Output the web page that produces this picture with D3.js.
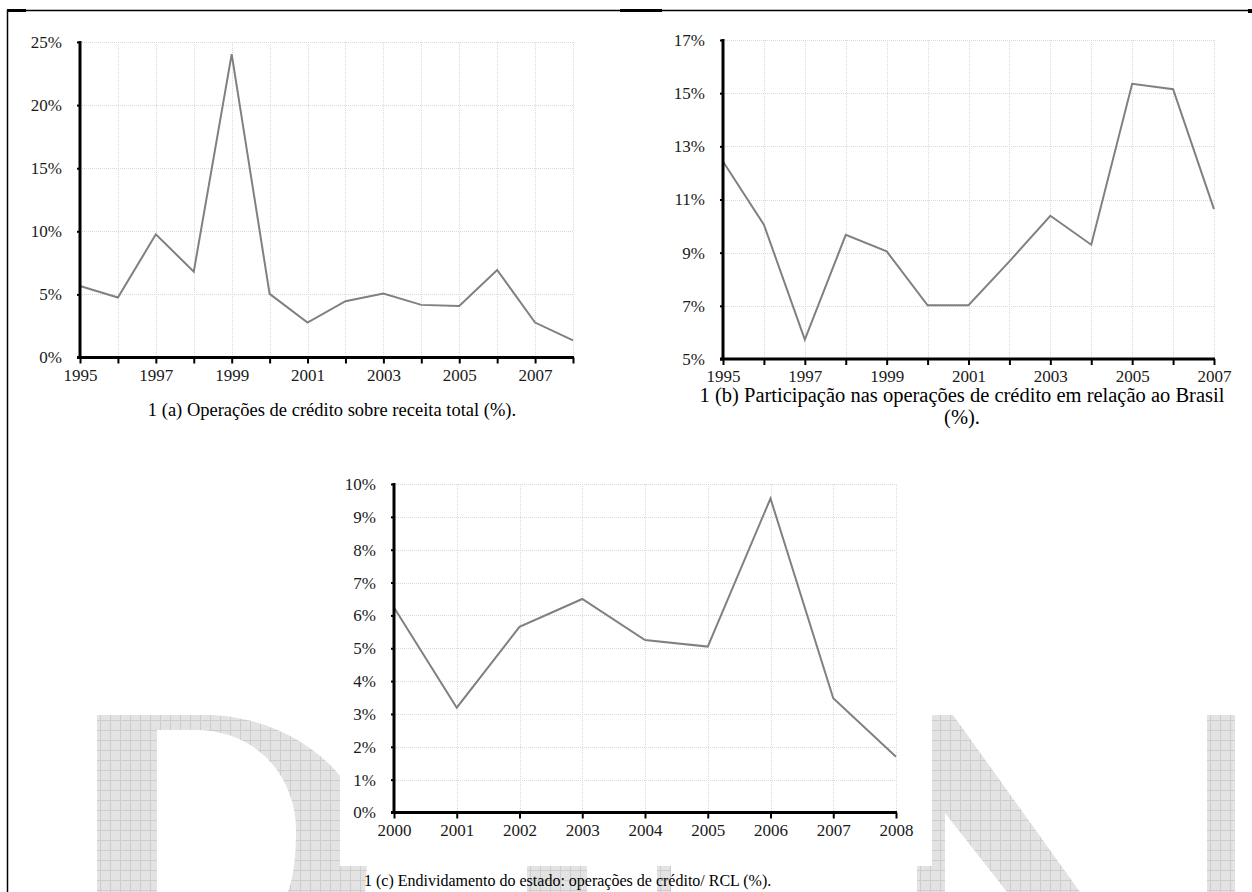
<!DOCTYPE html>
<html>
<head>
<meta charset="utf-8">
<script src="https://cdn.jsdelivr.net/npm/d3@7"></script>
<style>
  html, body { margin: 0; padding: 0; background: #fff; }
  svg { display: block; }
  text { font-family: "Liberation Serif", "Times New Roman", serif; }
</style>
</head>
<body>
<svg id="chart" width="1252" height="892"></svg>
<script>
// ---------- data ----------
const yearsA = [1995, 1996, 1997, 1998, 1999, 2000, 2001, 2002, 2003, 2004, 2005, 2006, 2007, 2008];
const valuesA = [5.67, 4.75, 9.76, 6.8, 24.04, 5.04, 2.77, 4.46, 5.07, 4.17, 4.09, 6.94, 2.77, 1.35];
const yTicksA = [0, 5, 10, 15, 20, 25];
const xLabelsA = [1995, 1997, 1999, 2001, 2003, 2005, 2007];

const yearsB = [1995, 1996, 1997, 1998, 1999, 2000, 2001, 2002, 2003, 2004, 2005, 2006, 2007];
const valuesB = [12.43, 10.05, 5.73, 9.67, 9.05, 7.02, 7.02, 8.67, 10.39, 9.30, 15.35, 15.15, 10.64];
const yTicksB = [5, 7, 9, 11, 13, 15, 17];
const xLabelsB = [1995, 1997, 1999, 2001, 2003, 2005, 2007];

const yearsC = [2000, 2001, 2002, 2003, 2004, 2005, 2006, 2007, 2008];
const valuesC = [6.24, 3.19, 5.65, 6.50, 5.25, 5.05, 9.56, 3.48, 1.70];
const yTicksC = [0, 1, 2, 3, 4, 5, 6, 7, 8, 9, 10];
const xLabelsC = [2000, 2001, 2002, 2003, 2004, 2005, 2006, 2007, 2008];

const captionA = ["1 (a) Operações de crédito sobre receita total (%)."];
const captionB = ["1 (b) Participação nas operações de crédito em relação ao Brasil", "(%)."];
const captionC = ["1 (c) Endividamento do estado: operações de crédito/ RCL (%)."];

// ---------- drawing ----------
const svg = d3.select("#chart");
const defs = svg.append("defs");
const pat = defs.append("pattern").attr("id", "wm").attr("width", 10).attr("height", 10)
  .attr("patternUnits", "userSpaceOnUse");
pat.append("rect").attr("width", 10).attr("height", 10).attr("fill", "#e3e3e3");
pat.append("path").attr("d", "M0 0.5H10M0.5 0V10").attr("stroke", "#cdcdcd").attr("stroke-width", 1);

// watermark (decorative background letters)
const wm = svg.append("g");
wm.append("path").attr("fill", "url(#wm)").attr("fill-rule", "evenodd")
  .attr("d", "M97,715 H205 C290,715 368,775 368,850 L365,892 H97 Z " +
             "M157,730 H195 C260,730 296,780 296,830 C296,860 293,878 288,892 H157 Z");
wm.append("rect").attr("fill", "url(#wm)").attr("x", 527).attr("y", 715).attr("width", 60).attr("height", 177);
wm.append("rect").attr("fill", "url(#wm)").attr("x", 657).attr("y", 715).attr("width", 14).attr("height", 177);
wm.append("path").attr("fill", "url(#wm)")
  .attr("d", "M917,715 H953 L1080,892 H1007 L945,813 V892 H917 Z");
wm.append("rect").attr("fill", "url(#wm)").attr("x", 1207).attr("y", 715).attr("width", 28).attr("height", 177);

// white backing box for chart (c)
svg.append("rect").attr("x", 340).attr("y", 470).attr("width", 592).attr("height", 396).attr("fill", "#fff");

// frame
svg.append("line").attr("x1", 7).attr("x2", 1252).attr("y1", 10.5).attr("y2", 10.5)
  .attr("stroke", "#000").attr("stroke-width", 1.5);
svg.append("line").attr("x1", 7.5).attr("x2", 7.5).attr("y1", 10).attr("y2", 892)
  .attr("stroke", "#000").attr("stroke-width", 1.5);
svg.append("rect").attr("x", 7).attr("y", 9).attr("width", 19).attr("height", 3).attr("fill", "#000");
svg.append("rect").attr("x", 620).attr("y", 9).attr("width", 42).attr("height", 3).attr("fill", "#000");
svg.append("rect").attr("x", 1248).attr("y", 9).attr("width", 4).attr("height", 4).attr("fill", "#000");

function drawChart(opt) {
  const g = svg.append("g");
  const x = d3.scaleLinear().domain([opt.years[0], opt.years[opt.years.length - 1]]).range([opt.x0, opt.x1]);
  const y = d3.scaleLinear().domain([opt.yTicks[0], opt.yTicks[opt.yTicks.length - 1]]).range([opt.y0, opt.y1]);

  // grid
  const grid = g.append("g").attr("stroke", "#d9d9d9").attr("stroke-width", 1).attr("stroke-dasharray", "1,1");
  grid.selectAll("line.v").data(opt.years.slice(1)).join("line")
    .attr("x1", d => Math.round(x(d)) + 0.5).attr("x2", d => Math.round(x(d)) + 0.5)
    .attr("y1", opt.y1).attr("y2", opt.y0);
  grid.selectAll("line.h").data(opt.yTicks.slice(1)).join("line")
    .attr("y1", d => Math.round(y(d)) + 0.5).attr("y2", d => Math.round(y(d)) + 0.5)
    .attr("x1", opt.x0).attr("x2", opt.x1);

  // line
  const line = d3.line().x((d, i) => x(opt.years[i])).y(d => y(d));
  g.append("path").datum(opt.values).attr("d", line)
    .attr("fill", "none").attr("stroke", "#808080").attr("stroke-width", 2).attr("stroke-linejoin", "miter");

  // x axis
  const xAxis = d3.axisBottom(x).tickValues(opt.years).tickSize(6).tickSizeOuter(0).tickPadding(5)
    .tickFormat(d => opt.xLabels.includes(d) ? String(d) : "");
  const gx = g.append("g").attr("transform", `translate(0,${opt.y0})`).call(xAxis);
  gx.select(".domain").attr("stroke", "#000").attr("stroke-width", 3)
    .attr("d", `M${opt.x0 - 3},0H${opt.x1 + 1}`);
  gx.selectAll(".tick line").attr("stroke", "#000").attr("stroke-width", 2);
  gx.selectAll(".tick text").attr("font-size", 17).attr("fill", "#1a1a1a")
    .attr("font-family", "'Liberation Serif', serif");

  // y axis
  const yAxis = d3.axisLeft(y).tickValues(opt.yTicks).tickSize(3).tickSizeOuter(0).tickPadding(15)
    .tickFormat(d => d + "%");
  const gy = g.append("g").attr("transform", `translate(${opt.x0},0)`).call(yAxis);
  gy.select(".domain").attr("stroke", "#000").attr("stroke-width", 3)
    .attr("d", `M0,${opt.y1 - 1}V${opt.y0}`);
  gy.selectAll(".tick line").attr("stroke", "#000").attr("stroke-width", 2);
  gy.selectAll(".tick text").attr("font-size", 17).attr("fill", "#1a1a1a")
    .attr("font-family", "'Liberation Serif', serif");

  // caption
  g.selectAll("text.cap").data(opt.caption).join("text")
    .attr("class", "cap")
    .attr("x", opt.capX).attr("y", (d, i) => opt.capY + i * opt.capGap)
    .attr("text-anchor", opt.capAnchor).attr("font-size", opt.capSize).attr("fill", "#000")
    .text(d => d);
}

drawChart({ years: yearsA, values: valuesA, yTicks: yTicksA, xLabels: xLabelsA, caption: captionA,
  x0: 80, x1: 573, y0: 357.5, y1: 42, capX: 332, capY: 416, capAnchor: "middle", capSize: 18.5, capGap: 0 });
drawChart({ years: yearsB, values: valuesB, yTicks: yTicksB, xLabels: xLabelsB, caption: captionB,
  x0: 723, x1: 1214, y0: 359, y1: 40, capX: 962, capY: 402, capAnchor: "middle", capSize: 20.5, capGap: 22 });
drawChart({ years: yearsC, values: valuesC, yTicks: yTicksC, xLabels: xLabelsC, caption: captionC,
  x0: 394, x1: 896, y0: 812.5, y1: 484, capX: 364, capY: 886, capAnchor: "start", capSize: 16, capGap: 0 });
</script>
</body>
</html>
